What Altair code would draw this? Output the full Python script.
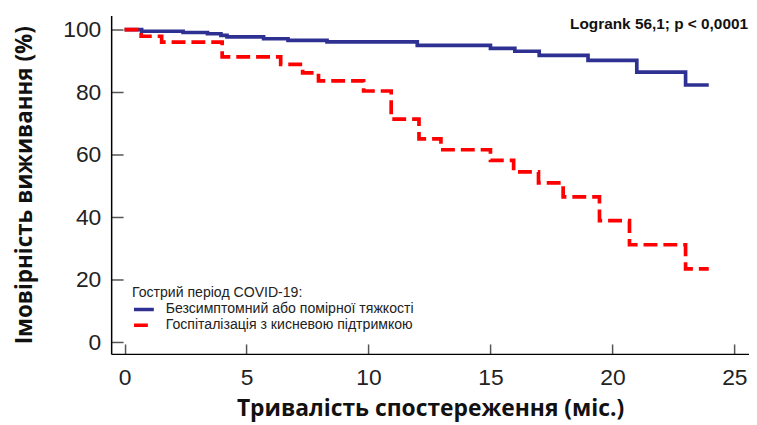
import altair as alt
import pandas as pd

# Kaplan-Meier step data
blue_t = [0, 0.7, 2.4, 3.4, 3.95, 4.2, 5.7, 6.7, 8.3, 12.0, 15.0, 16.0, 17.0, 19.0, 21.0, 23.0, 23.95]
blue_s = [100, 99.5, 99.1, 98.7, 98.2, 97.7, 97.1, 96.6, 96.1, 95.0, 94.0, 93.1, 91.8, 90.2, 86.4, 82.3, 82.3]
red_t = [0, 0.68, 1.52, 4.0, 6.4, 7.3, 7.95, 9.8, 10.93, 12.07, 12.97, 15.0, 15.95, 16.97, 17.98, 19.47, 20.7, 23.0, 23.95]
red_s = [100, 97.9, 96.0, 91.3, 88.9, 86.2, 83.6, 80.4, 71.4, 65.1, 61.6, 58.2, 54.5, 51.0, 46.5, 38.9, 31.2, 23.5, 23.5]

groups = ["Безсимптомний або помірної тяжкості", "Госпіталізація з кисневою підтримкою"]
colors = ["#2E3192", "#FF0000"]
dashes = [[1, 0], [14, 6]]

x_ticks = [0, 5, 10, 15, 20, 25]
y_ticks = [0, 10, 20, 30, 40, 50, 60, 70, 80, 90, 100]

legend_title = "Гострий період COVID-19:"
x_title = "Тривалість спостереження (міс.)"
y_title = "Імовірність виживання (%)"
annot_text = ["Logrank 56,1; p < 0,0001"]
annot_x = [25.56]
annot_y = [101.8]

df = pd.concat([
    pd.DataFrame({"t": blue_t, "s": blue_s, "group": groups[0]}),
    pd.DataFrame({"t": red_t, "s": red_s, "group": groups[1]}),
])
ann = pd.DataFrame({"x": annot_x, "y": annot_y, "text": annot_text})

W, H = 643, 341
xscale = alt.Scale(domain=[-0.55, 25.6], nice=False, zero=False)
yscale = alt.Scale(domain=[-3.7, 104.5], nice=False, zero=False)

leg = alt.Legend(
    title=legend_title, orient="none", legendX=21, legendY=273,
    titleFont="Liberation Sans", titleFontWeight="normal", titleFontSize=14.2, titleColor="#222",
    labelFont="Liberation Sans", labelFontSize=14.2, labelColor="#222",
    symbolType="stroke", symbolSize=400, symbolStrokeWidth=3.5,
    clipHeight=16, rowPadding=0, labelOffset=10, titlePadding=1, padding=0, labelLimit=400,
)

lines = alt.Chart(df).mark_line(interpolate="step-after", strokeWidth=3.7, strokeCap="butt").encode(
    x=alt.X("t:Q", scale=xscale, axis=alt.Axis(
        values=x_ticks, title=x_title, tickSize={"expr": "-10"}, labelPadding=22.5,
        titleX=W / 2, titleY=61.7, titleBaseline="alphabetic", titleAlign="center", titleFontSize=23)),
    y=alt.Y("s:Q", scale=yscale, axis=alt.Axis(
        values=y_ticks, title=y_title,
        labelExpr="datum.value % 20 == 0 ? datum.label : ''",
        tickSize={"expr": "datum.value % 20 == 0 ? -12 : -8"}, labelPadding=22.5,
        titleX=-87.5, titleY=H / 2, titleAngle=270, titleBaseline="middle", titleAlign="center",
        titleFontSize=22.6)),
    color=alt.Color("group:N", scale=alt.Scale(domain=groups, range=colors), legend=leg),
    strokeDash=alt.StrokeDash("group:N", scale=alt.Scale(domain=groups, range=dashes), legend=leg),
)

text = alt.Chart(ann).mark_text(
    align="right", baseline="middle", font="Liberation Sans", fontWeight="bold", fontSize=15.5, color="#111"
).encode(x=alt.X("x:Q", scale=xscale), y=alt.Y("y:Q", scale=yscale), text="text:N")

chart = alt.layer(lines, text).properties(
    width=W, height=H,
    autosize=alt.AutoSizeParams(type="none"),
    padding={"left": 104, "top": 6, "right": 0, "bottom": 68},
).configure_view(stroke=None).configure_axis(
    domainColor="#000", domainWidth=1.5, tickColor="#555", tickWidth=1.5,
    labelFont="Liberation Sans", labelFontSize=23, labelColor="#222",
    titleFont="Open Sans", titleFontWeight="bold", titleColor="#111",
    grid=False,
)

chart.save("out.html", embed_options={"renderer": "svg", "actions": False})
